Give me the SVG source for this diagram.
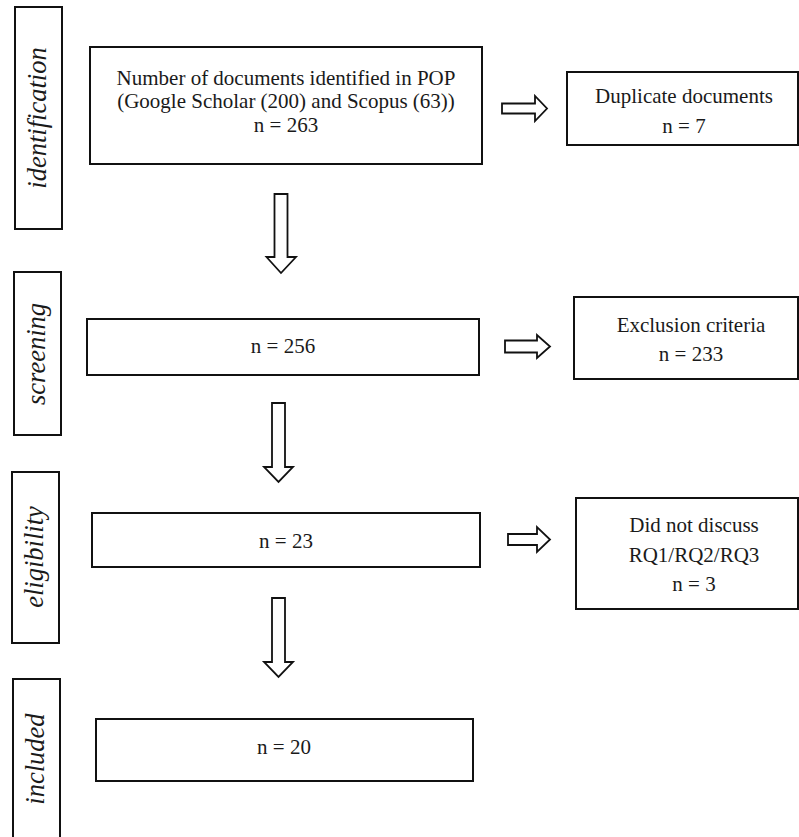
<svg xmlns="http://www.w3.org/2000/svg" width="799" height="837" viewBox="0 0 799 837">
<style>
.box{fill:#fff;stroke:#111;stroke-width:2}
.arr{fill:#fff;stroke:#111;stroke-width:1.8;stroke-linejoin:miter}
.t{font-family:"Liberation Serif","Times New Roman",serif;font-size:21px;fill:#1a1a1a;text-anchor:middle}
.lab{font-family:"Liberation Serif","Times New Roman",serif;font-style:italic;font-size:26.5px;fill:#1a1a1a;text-anchor:middle}
</style>
<rect width="799" height="837" fill="#fff"/>
<g id="label-identification"><rect class="box" x="15" y="7" width="47" height="222"/><text class="lab" transform="translate(46,118) rotate(-90)">identification</text></g>
<g id="label-screening"><rect class="box" x="14" y="272" width="47" height="163"/><text class="lab" transform="translate(45,354) rotate(-90)">screening</text></g>
<g id="label-eligibility"><rect class="box" x="12" y="472" width="47" height="171"/><text class="lab" transform="translate(43,557) rotate(-90)">eligibility</text></g>
<g id="label-included"><rect class="box" x="13" y="679" width="47" height="170"/><text class="lab" transform="translate(44,759) rotate(-90)">included</text></g>
<g id="node-identified"><rect class="box" x="90" y="47" width="392" height="117"/><text class="t" x="286" y="85">Number of documents identified in POP</text><text class="t" x="286" y="108">(Google Scholar (200) and Scopus (63))</text><text class="t" x="286" y="132">n = 263</text></g>
<g id="node-duplicates"><rect class="box" x="567" y="72" width="231" height="73"/><text class="t" x="684" y="103">Duplicate documents</text><text class="t" x="684" y="133">n = 7</text></g>
<g id="node-screening"><rect class="box" x="87" y="319" width="392" height="56"/><text class="t" x="283" y="353">n = 256</text></g>
<g id="node-exclusion"><rect class="box" x="574" y="297" width="224" height="82"/><text class="t" x="691" y="332">Exclusion criteria</text><text class="t" x="691" y="361">n = 233</text></g>
<g id="node-eligibility"><rect class="box" x="92" y="513" width="388" height="54"/><text class="t" x="286" y="548">n = 23</text></g>
<g id="node-notdiscuss"><rect class="box" x="576" y="498" width="222" height="111"/><text class="t" x="694" y="532">Did not discuss</text><text class="t" x="694" y="562">RQ1/RQ2/RQ3</text><text class="t" x="694" y="591">n = 3</text></g>
<g id="node-included"><rect class="box" x="96" y="719" width="377" height="62"/><text class="t" x="284" y="754">n = 20</text></g>
<g id="connectors">
<path class="arr" d="M502,103.5 H535 V96 L547,108.5 L535,121 V113.5 H502 Z"/>
<path class="arr" d="M505,340.5 H537 V335 L550,346.5 L537,358 V352.5 H505 Z"/>
<path class="arr" d="M508,534 H537 V527 L550,539.5 L537,552 V545 H508 Z"/>
<path class="arr" d="M274.5,194 H287.5 V257 H296 L281,273 L266.5,257 H274.5 Z"/>
<path class="arr" d="M272,403 H285 V467 H293 L278.5,482 L264,467 H272 Z"/>
<path class="arr" d="M272,598 H285 V662 H293 L278.5,677 L264,662 H272 Z"/>
</g>
</svg>
